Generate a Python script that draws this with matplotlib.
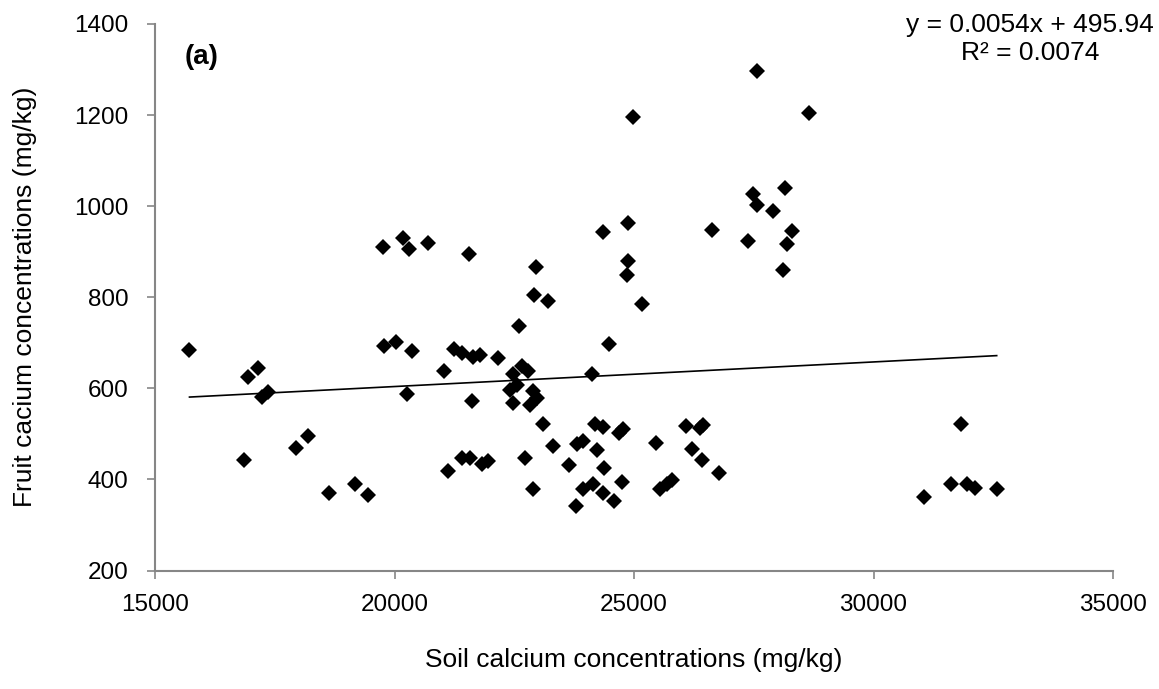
import matplotlib
matplotlib.use("Agg")
import matplotlib.pyplot as plt
import numpy as np

plt.rcParams['font.family'] = ['Liberation Sans', 'DejaVu Sans']

# Soil Ca (mg/kg) and fruit Ca (mg/kg) for each sample
soil_ca = [
    15720, 16860, 16935, 17145, 17230, 17365, 17940, 18190, 18640, 19170,
    19455, 19760, 19790, 20030, 20185, 20255, 20310, 20370, 20705, 21040,
    21120, 21250, 21400, 21400, 21555, 21575, 21610, 21645, 21790, 21820,
    21960, 22160, 22410, 22480, 22480, 22550, 22595, 22655, 22725, 22795,
    22830, 22885, 22900, 22912, 22948, 22967, 23105, 23210, 23315, 23648,
    23790, 23820, 23942, 23935, 24117, 24150, 24186, 24234, 24346, 24359,
    24380, 24359, 24485, 24575, 24690, 24743, 24780, 24847, 24881, 24881,
    24973, 25173, 25453, 25543, 25682, 25787, 26085, 26204, 26378, 26413,
    26447, 26635, 26775, 27373, 27477, 27561, 27561, 27909, 28117, 28152,
    28200, 28292, 28653, 31054, 31618, 31827, 31946, 32119, 32572,
]
fruit_ca = [
    685, 442, 625, 645, 582, 592, 469, 495, 370, 390,
    365, 910, 692, 702, 930, 588, 905, 681, 920, 639,
    418, 686, 678, 446, 894, 446, 572, 669, 674, 434,
    440, 667, 597, 632, 568, 607, 736, 648, 447, 637,
    563, 594, 380, 804, 867, 578, 522, 791, 473, 431,
    342, 478, 484, 380, 632, 390, 522, 464, 943, 515,
    425, 371, 697, 353, 503, 395, 510, 848, 880, 962,
    1196, 786, 481, 380, 390, 398, 517, 466, 512, 442,
    520, 947, 414, 924, 1026, 1297, 1002, 989, 860, 1039,
    916, 946, 1204, 361, 389, 521, 391, 382, 380,
]

# Linear trend reported on the chart
slope = 0.0054
intercept = 495.94
r_squared = 0.0074

x_ticks = [15000, 20000, 25000, 30000, 35000]
y_ticks = [200, 400, 600, 800, 1000, 1200, 1400]

W, H = 1159, 689
fig = plt.figure(figsize=(W / 100, H / 100), dpi=100)
ax = fig.add_axes([155 / W, 1 - 570.5 / H, (1113 - 155) / W, (570.5 - 24) / H])

ax.plot(soil_ca, fruit_ca, linestyle='none', marker='D', markersize=8,
        color='black', markeredgewidth=0, zorder=3)

xs = np.array([min(soil_ca), max(soil_ca)])
ax.plot(xs, slope * xs + intercept, color='black', linewidth=1.2, zorder=2)

ax.set_xlim(15000, 35000)
ax.set_ylim(200, 1400)
ax.set_xticks(x_ticks)
ax.set_yticks(y_ticks)
ax.tick_params(axis='both', direction='out', length=6, width=1.2, color='#868686',
               labelsize=17.5, labelcolor='black')
ax.tick_params(axis='y', pad=13)
ax.tick_params(axis='x', pad=11)

for side in ['top', 'right']:
    ax.spines[side].set_visible(False)
for side in ['left', 'bottom']:
    ax.spines[side].set_color('#868686')
    ax.spines[side].set_linewidth(1.5)

ax.set_xlabel('Soil calcium concentrations (mg/kg)', fontsize=19, labelpad=23)
ax.set_ylabel('Fruit cacium concentrations (mg/kg)', fontsize=19, labelpad=27)

fig.text(1030 / W, 1 - 25 / H, f'y = {slope}x + {intercept}',
         ha='center', va='center', fontsize=19)
fig.text(1030 / W, 1 - 53 / H, f'R\u00b2 = {r_squared}',
         ha='center', va='center', fontsize=19)
fig.text(185 / W, 1 - 57 / H, '(a)', ha='left', va='center',
         fontsize=20, fontweight='bold')

fig.savefig('out.png', dpi=100)
